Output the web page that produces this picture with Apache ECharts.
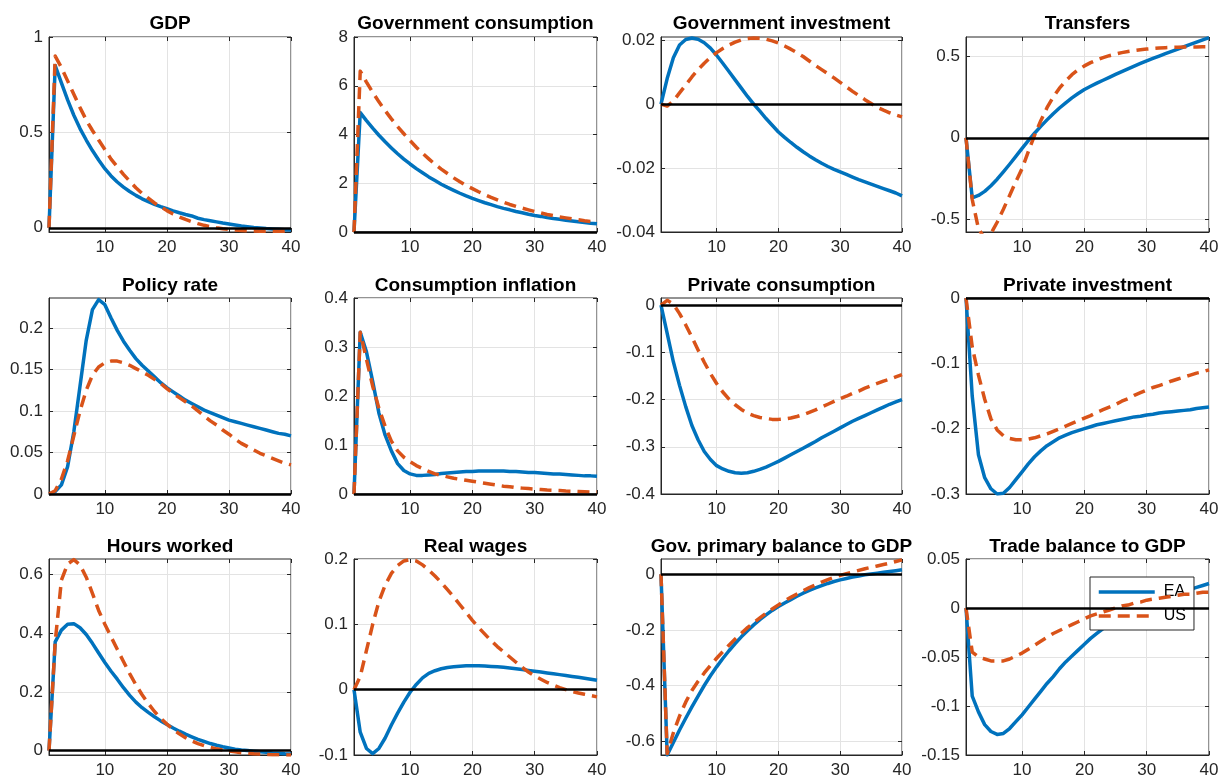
<!DOCTYPE html>
<html><head><meta charset="utf-8">
<script src="https://cdn.jsdelivr.net/npm/echarts@6/dist/echarts.min.js"></script>
<style>html,body{margin:0;padding:0;background:#fff;}#c{width:1227px;height:783px;}</style>
</head><body><div id="c"></div>
<script>
const periods = [1,2,3,4,5,6,7,8,9,10,11,12,13,14,15,16,17,18,19,20,21,22,23,24,25,26,27,28,29,30,31,32,33,34,35,36,37,38,39,40];
const titles = ['GDP','Government consumption','Government investment','Transfers','Policy rate','Consumption inflation','Private consumption','Private investment','Hours worked','Real wages','Gov. primary balance to GDP','Trade balance to GDP'];
const seriesNames = ['EA','US'];
const xTicks = [10,20,30,40];
const yTicks = [[0,0.5,1],[0,2,4,6,8],[-0.04,-0.02,0,0.02],[-0.5,0,0.5],[0,0.05,0.1,0.15,0.2],[0,0.1,0.2,0.3,0.4],[-0.4,-0.3,-0.2,-0.1,0],[-0.3,-0.2,-0.1,0],[0,0.2,0.4,0.6],[-0.1,0,0.1,0.2],[-0.6,-0.4,-0.2,0],[-0.15,-0.1,-0.05,0,0.05]];
const yMin = [-0.022,0,-0.04,-0.58,0,0,-0.4,-0.3,-0.015,-0.1,-0.65,-0.15];
const yMax = [1,8,0.021,0.62,0.236,0.4,0.015,0,0.652,0.2,0.055,0.05];

const gdpEA = [0,0.85,0.76,0.67,0.59,0.52,0.46,0.405,0.355,0.31,0.272,0.24,0.213,0.19,0.17,0.152,0.137,0.123,0.111,0.1,0.089,0.079,0.07,0.062,0.05,0.043,0.037,0.031,0.025,0.02,0.015,0.01,0.006,0.002,-0.001,-0.004,-0.006,-0.008,-0.01,-0.012];
const gdpUS = [0,0.9,0.84,0.77,0.7,0.63,0.565,0.51,0.46,0.41,0.36,0.32,0.28,0.245,0.21,0.18,0.155,0.13,0.11,0.09,0.072,0.057,0.044,0.032,0.022,0.013,0.006,0.0,-0.005,-0.009,-0.012,-0.014,-0.016,-0.017,-0.018,-0.018,-0.018,-0.018,-0.018,-0.017];
const gcEA = [0,4.9,4.57,4.26,3.97,3.70,3.45,3.21,2.99,2.79,2.60,2.43,2.26,2.11,1.96,1.83,1.71,1.59,1.48,1.38,1.29,1.20,1.12,1.04,0.97,0.91,0.84,0.79,0.73,0.68,0.64,0.59,0.55,0.52,0.48,0.45,0.42,0.39,0.36,0.34];
const gcUS = [0,6.6,6.15,5.73,5.34,4.98,4.64,4.32,4.03,3.75,3.48,3.23,3.00,2.78,2.58,2.40,2.22,2.06,1.91,1.78,1.65,1.53,1.42,1.32,1.22,1.13,1.05,0.98,0.91,0.84,0.78,0.72,0.67,0.62,0.58,0.54,0.50,0.46,0.43,0.40];
const giEA = [0,0.008,0.0145,0.0185,0.0202,0.0207,0.0203,0.0192,0.0175,0.0153,0.0128,0.0102,0.0076,0.005,0.0024,0.0,-0.0022,-0.0045,-0.0066,-0.0087,-0.0104,-0.012,-0.0135,-0.0149,-0.0162,-0.0174,-0.0185,-0.0195,-0.0204,-0.0212,-0.022,-0.0228,-0.0236,-0.0243,-0.025,-0.0257,-0.0264,-0.0271,-0.0278,-0.0287];
const giUS = [0,-0.0006,0.001,0.0035,0.006,0.0085,0.0108,0.0128,0.0146,0.0161,0.0174,0.0185,0.0194,0.0201,0.0205,0.0207,0.0206,0.0203,0.0198,0.0191,0.0182,0.0172,0.0161,0.0149,0.0135,0.0121,0.0108,0.0095,0.0082,0.0068,0.0054,0.004,0.0027,0.0014,0.0002,-0.001,-0.0019,-0.0027,-0.0034,-0.004];
const trEA = [0,-0.37,-0.355,-0.33,-0.295,-0.255,-0.21,-0.163,-0.115,-0.065,-0.018,0.028,0.07,0.11,0.148,0.183,0.215,0.245,0.272,0.297,0.317,0.336,0.354,0.372,0.39,0.407,0.424,0.441,0.457,0.473,0.488,0.503,0.518,0.532,0.546,0.56,0.574,0.588,0.602,0.616];
const trUS = [0,-0.38,-0.56,-0.62,-0.59,-0.52,-0.44,-0.355,-0.27,-0.19,-0.085,0.015,0.105,0.185,0.25,0.305,0.35,0.388,0.418,0.442,0.462,0.479,0.493,0.505,0.515,0.524,0.531,0.537,0.542,0.546,0.549,0.552,0.554,0.556,0.557,0.558,0.559,0.559,0.56,0.56];
const prEA = [0,0.003,0.011,0.033,0.075,0.13,0.185,0.222,0.234,0.228,0.212,0.197,0.184,0.173,0.163,0.155,0.148,0.141,0.134,0.128,0.123,0.118,0.113,0.109,0.105,0.101,0.098,0.095,0.092,0.089,0.087,0.085,0.083,0.081,0.079,0.077,0.075,0.073,0.072,0.07];
const prUS = [0,0.004,0.018,0.04,0.07,0.1,0.125,0.143,0.153,0.158,0.16,0.16,0.158,0.155,0.151,0.147,0.143,0.138,0.133,0.127,0.121,0.116,0.111,0.106,0.1,0.094,0.088,0.083,0.077,0.072,0.066,0.061,0.057,0.053,0.049,0.046,0.043,0.04,0.037,0.035];
const ciEA = [0,0.33,0.29,0.23,0.165,0.12,0.088,0.062,0.048,0.041,0.038,0.038,0.039,0.04,0.042,0.043,0.044,0.045,0.046,0.046,0.047,0.047,0.047,0.047,0.047,0.046,0.046,0.045,0.044,0.044,0.043,0.042,0.041,0.041,0.04,0.039,0.038,0.037,0.037,0.036];
const ciUS = [0,0.33,0.275,0.22,0.175,0.138,0.108,0.088,0.075,0.066,0.058,0.052,0.046,0.041,0.038,0.035,0.032,0.03,0.028,0.026,0.024,0.022,0.02,0.018,0.016,0.015,0.013,0.012,0.011,0.01,0.009,0.008,0.0075,0.007,0.006,0.0055,0.005,0.0045,0.004,0.004];
const pcEA = [0,-0.06,-0.12,-0.17,-0.215,-0.255,-0.285,-0.31,-0.327,-0.34,-0.347,-0.352,-0.355,-0.356,-0.355,-0.352,-0.348,-0.343,-0.337,-0.331,-0.324,-0.317,-0.31,-0.303,-0.296,-0.289,-0.281,-0.274,-0.267,-0.26,-0.253,-0.246,-0.24,-0.234,-0.228,-0.222,-0.216,-0.21,-0.205,-0.2];
const pcUS = [0,0.01,0.002,-0.018,-0.042,-0.068,-0.095,-0.121,-0.145,-0.166,-0.184,-0.199,-0.211,-0.221,-0.229,-0.234,-0.238,-0.24,-0.242,-0.242,-0.241,-0.239,-0.236,-0.232,-0.227,-0.222,-0.216,-0.21,-0.204,-0.198,-0.193,-0.187,-0.182,-0.176,-0.171,-0.166,-0.161,-0.157,-0.152,-0.147];
const piEA = [0,-0.15,-0.24,-0.275,-0.292,-0.3,-0.299,-0.29,-0.278,-0.266,-0.254,-0.243,-0.234,-0.226,-0.22,-0.214,-0.21,-0.206,-0.203,-0.2,-0.197,-0.194,-0.192,-0.19,-0.188,-0.186,-0.184,-0.182,-0.181,-0.179,-0.178,-0.176,-0.175,-0.174,-0.173,-0.172,-0.171,-0.169,-0.168,-0.167];
const piUS = [0,-0.075,-0.118,-0.155,-0.185,-0.202,-0.211,-0.215,-0.217,-0.217,-0.216,-0.214,-0.211,-0.208,-0.204,-0.2,-0.196,-0.192,-0.188,-0.184,-0.18,-0.175,-0.171,-0.167,-0.163,-0.158,-0.154,-0.149,-0.145,-0.141,-0.137,-0.134,-0.131,-0.127,-0.124,-0.121,-0.118,-0.115,-0.113,-0.11];
const hwEA = [0,0.37,0.41,0.43,0.432,0.418,0.395,0.365,0.332,0.3,0.27,0.243,0.214,0.188,0.165,0.146,0.13,0.115,0.101,0.089,0.077,0.066,0.056,0.047,0.038,0.031,0.024,0.018,0.013,0.009,0.005,0.002,0.0,-0.002,-0.004,-0.006,-0.008,-0.009,-0.011,-0.012];
const hwUS = [0,0.37,0.58,0.635,0.65,0.632,0.59,0.535,0.477,0.43,0.387,0.345,0.303,0.262,0.224,0.19,0.16,0.133,0.11,0.09,0.072,0.057,0.044,0.033,0.024,0.017,0.011,0.006,0.002,-0.001,-0.004,-0.007,-0.009,-0.011,-0.012,-0.013,-0.014,-0.014,-0.015,-0.015];
const rwEA = [0,-0.065,-0.09,-0.098,-0.09,-0.074,-0.054,-0.036,-0.019,-0.004,0.008,0.018,0.025,0.029,0.032,0.034,0.035,0.036,0.0365,0.0367,0.0366,0.0362,0.0356,0.035,0.0343,0.0333,0.0321,0.0308,0.0295,0.0282,0.0269,0.0256,0.0243,0.023,0.0217,0.0203,0.019,0.0176,0.016,0.0145];
const rwUS = [0,0.02,0.06,0.1,0.135,0.16,0.178,0.19,0.197,0.199,0.197,0.191,0.183,0.174,0.164,0.153,0.142,0.13,0.118,0.106,0.095,0.085,0.075,0.066,0.058,0.05,0.042,0.034,0.027,0.021,0.016,0.011,0.007,0.003,0.0,-0.003,-0.005,-0.007,-0.009,-0.011];
const gpEA = [0,-0.65,-0.605,-0.56,-0.518,-0.477,-0.438,-0.4,-0.365,-0.333,-0.303,-0.275,-0.249,-0.225,-0.203,-0.182,-0.163,-0.146,-0.13,-0.116,-0.103,-0.091,-0.079,-0.068,-0.058,-0.049,-0.041,-0.033,-0.026,-0.02,-0.015,-0.01,-0.006,-0.002,0.001,0.004,0.007,0.01,0.013,0.016];
const gpUS = [0,-0.645,-0.57,-0.51,-0.46,-0.418,-0.385,-0.355,-0.328,-0.302,-0.278,-0.255,-0.233,-0.212,-0.192,-0.174,-0.157,-0.14,-0.125,-0.11,-0.096,-0.083,-0.071,-0.059,-0.048,-0.038,-0.028,-0.019,-0.011,-0.004,0.002,0.008,0.014,0.02,0.025,0.03,0.035,0.04,0.046,0.052];
const tbEA = [0,-0.09,-0.106,-0.119,-0.126,-0.129,-0.128,-0.123,-0.116,-0.109,-0.101,-0.093,-0.085,-0.077,-0.07,-0.062,-0.055,-0.049,-0.043,-0.037,-0.031,-0.026,-0.021,-0.016,-0.012,-0.008,-0.004,-0.001,0.002,0.005,0.007,0.01,0.012,0.014,0.016,0.018,0.019,0.021,0.023,0.025];
const tbUS = [0,-0.045,-0.05,-0.052,-0.054,-0.054,-0.054,-0.052,-0.049,-0.046,-0.042,-0.038,-0.034,-0.03,-0.026,-0.023,-0.02,-0.017,-0.014,-0.011,-0.008,-0.006,-0.004,-0.002,0.0,0.002,0.003,0.005,0.006,0.008,0.009,0.01,0.011,0.012,0.013,0.014,0.014,0.015,0.016,0.016];

const eaSeries = [gdpEA,gcEA,giEA,trEA,prEA,ciEA,pcEA,piEA,hwEA,rwEA,gpEA,tbEA];
const usSeries = [gdpUS,gcUS,giUS,trUS,prUS,ciUS,pcUS,piUS,hwUS,rwUS,gpUS,tbUS];

// layout
const colLeft = [49,354,661,966], colRight = [291,597,902,1209];
const rowTop = [37,298,559], rowBottom = [232,494,755];
const titleTop = [14,276,537];
const FONT = '"Liberation Sans", Arial, Helvetica, sans-serif';
const AX = '#262626';
const GRIDC = '#e3e3e3';
const BLUE = '#0072BD', ORANGE = '#D95319';
const DASH = [12, 7];

const grids = [], xAxes = [], yAxes = [], series = [], titleList = [];
titles.forEach((t, i) => {
  const r = Math.floor(i / 4), c = i % 4;
  const left = colLeft[c], top = rowTop[r];
  const w = colRight[c] - left, h = rowBottom[r] - top;
  grids.push({left, top, width: w, height: h, show: true, borderColor: AX, borderWidth: 1, backgroundColor: '#fff'});
  titleList.push({text: t, left: left + w / 2, top: titleTop[r], textAlign: 'center', padding: 0,
    textStyle: {fontSize: 19, fontWeight: 'bold', color: '#000', fontFamily: FONT}});
  const fmt = v => String(v);
  xAxes.push({gridIndex: i, type: 'value', min: 1, max: 40, position: 'bottom',
    axisLine: {show: true, onZero: false, lineStyle: {color: AX, width: 1}},
    axisTick: {show: true, inside: true, length: 4, customValues: xTicks, lineStyle: {color: AX, width: 1}},
    axisLabel: {show: true, customValues: xTicks, formatter: fmt, color: AX, fontSize: 17, fontFamily: FONT, margin: 7},
    splitLine: {show: true, lineStyle: {color: GRIDC, width: 1}}});
  xAxes.push({gridIndex: i, type: 'value', min: 1, max: 40, position: 'top',
    axisLine: {show: false, onZero: false},
    axisTick: {show: true, inside: true, length: 4, customValues: xTicks, lineStyle: {color: AX, width: 1}},
    axisLabel: {show: false}, splitLine: {show: false}});
  yAxes.push({gridIndex: i, type: 'value', min: yMin[i], max: yMax[i], position: 'left',
    axisLine: {show: true, onZero: false, lineStyle: {color: AX, width: 1}},
    axisTick: {show: true, inside: true, length: 4, customValues: yTicks[i], lineStyle: {color: AX, width: 1}},
    axisLabel: {show: true, customValues: yTicks[i], formatter: fmt, color: AX, fontSize: 17, fontFamily: FONT, margin: 6},
    splitLine: {show: true, lineStyle: {color: GRIDC, width: 1}}});
  yAxes.push({gridIndex: i, type: 'value', min: yMin[i], max: yMax[i], position: 'right',
    axisLine: {show: false, onZero: false},
    axisTick: {show: true, inside: true, length: 4, customValues: yTicks[i], lineStyle: {color: AX, width: 1}},
    axisLabel: {show: false}, splitLine: {show: false}});
  series.push({type: 'line', xAxisIndex: 2 * i, yAxisIndex: 2 * i, data: [], z: 1, silent: true,
    markLine: {silent: true, symbol: 'none', label: {show: false}, animation: false,
      lineStyle: {color: '#000', width: 2.5, type: 'solid'}, emphasis: {disabled: true}, data: [{yAxis: 0}]}});
  series.push({type: 'line', name: seriesNames[0], xAxisIndex: 2 * i, yAxisIndex: 2 * i, z: 3,
    data: periods.map((x, k) => [x, eaSeries[i][k]]), symbol: 'none', showSymbol: false, clip: true,
    lineStyle: {color: BLUE, width: 3.5, cap: 'butt', join: 'round'}, itemStyle: {color: BLUE}});
  series.push({type: 'line', name: seriesNames[1], xAxisIndex: 2 * i, yAxisIndex: 2 * i, z: 4,
    data: periods.map((x, k) => [x, usSeries[i][k]]), symbol: 'none', showSymbol: false, clip: true,
    lineStyle: {color: ORANGE, width: 3.5, type: DASH, cap: 'butt', join: 'round'}, itemStyle: {color: ORANGE}});
});

const chart = echarts.init(document.getElementById('c'), null, {renderer: 'canvas', width: 1227, height: 783});
chart.setOption({
  backgroundColor: '#fff',
  animation: false,
  title: titleList,
  grid: grids,
  xAxis: xAxes,
  yAxis: yAxes,
  legend: {data: seriesNames, orient: 'vertical', left: 1090, top: 577, padding: [7, 8, 6, 7], itemGap: 8,
    itemWidth: 56, itemHeight: 14, backgroundColor: '#fff', borderColor: AX, borderWidth: 1, selectedMode: false,
    itemStyle: {opacity: 0}, lineStyle: {width: 3.5, cap: 'butt'},
    textStyle: {fontSize: 16, color: '#000', fontFamily: FONT, padding: [0, 0, 0, 4]}},
  series: series
});
</script></body></html>
